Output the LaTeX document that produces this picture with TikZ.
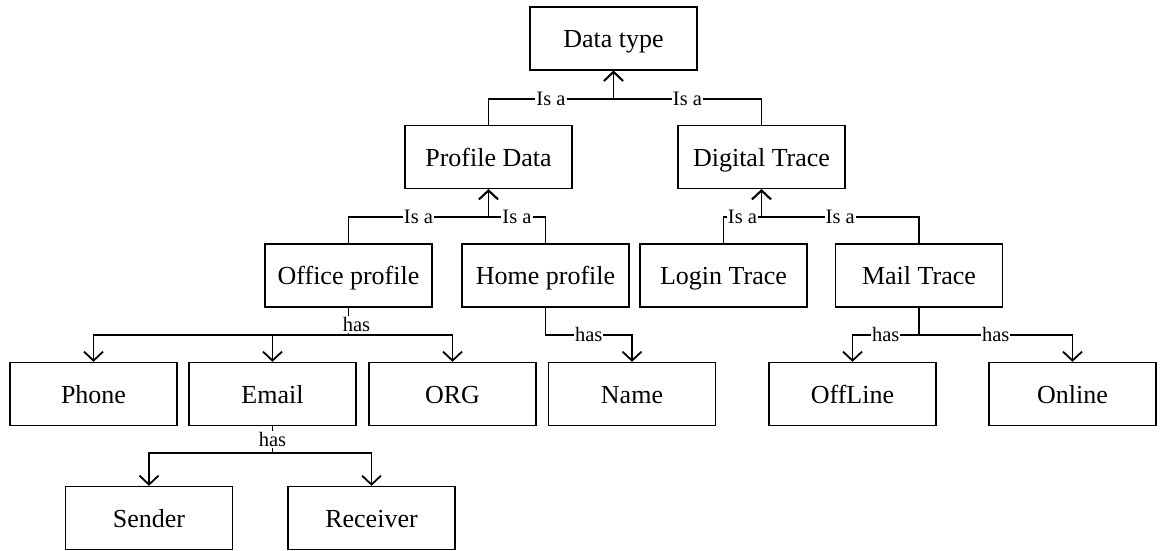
\documentclass[tikz,border=0pt]{standalone}
\usepackage{fontspec}
\setmainfont{Liberation Serif}
\usepackage{tikz}
\usetikzlibrary{arrows.meta,positioning}

\begin{document}
\begin{tikzpicture}[x=1pt,y=-1pt,>={Straight Barb[length=9pt,width=19pt]},
	                    line width=1.8pt,node distance=118.5pt]
	  \tikzstyle{box}=[draw=black,line width=1.3pt,minimum width=167pt,minimum height=63pt,
	                   text height=18pt,text depth=0pt,font=\fontsize{26}{30}\selectfont]
	  \tikzstyle{lbl}=[fill=white,inner sep=1pt,font=\fontsize{20.5}{24}\selectfont]
	  \useasboundingbox (0,0) rectangle (1160,550);

	  \node[box] (DataType) at (613.5,38.5) {Data type};
	  \node[box] (ProfileData) [below of=DataType, xshift=-125pt] {Profile Data};
	  \node[box] (DigitalTrace) [right of=ProfileData, node distance=273pt] {Digital Trace};
	  \node[box] (Office) [below of=ProfileData, xshift=-140pt] {Office profile};
	  \node[box] (Home) [right of=Office, node distance=197pt] {Home profile};
	  \node[box] (Login) [right of=Home, node distance=178pt] {Login Trace};
	  \node[box] (Mail) [right of=Login, node distance=195.5pt] {Mail Trace};
	  \node[box] (Email) [below of=Office, xshift=-76pt] {Email};
	  \node[box] (Phone) [left of=Email, node distance=179pt] {Phone};
	  \node[box] (ORG) [right of=Email, node distance=180pt] {ORG};
	  \node[box] (Name) [right of=ORG, node distance=179.5pt] {Name};
	  \node[box] (OffLine) [right of=Name, node distance=220.5pt] {OffLine};
	  \node[box] (Online) [right of=OffLine, node distance=220pt] {Online};
	  \node[box] (Sender) [below of=Email, node distance=124pt, xshift=-123.5pt] {Sender};
	  \node[box] (Receiver) [right of=Sender, node distance=222.5pt] {Receiver};

	  % junctions under each parent
	  \coordinate (DataTypeBar) at ([yshift=-28pt]DataType.south);
	  \coordinate (ProfileDataBar) at ([yshift=-28pt]ProfileData.south);
	  \coordinate (DigitalTraceBar) at ([yshift=-28pt]DigitalTrace.south);
	  \coordinate (OfficeBar) at ([yshift=-27pt]Office.south);
	  \coordinate (HomeBar) at ([yshift=-27pt]Home.south);
	  \coordinate (MailBar) at ([yshift=-27pt]Mail.south);
	  \coordinate (EmailBar) at ([yshift=-27pt]Email.south);

	  % is a
	  \draw[->] (ProfileData.north) |- node[lbl,pos=.75] {Is a} (DataTypeBar) -- (DataType.south);
	  \draw[->] (DigitalTrace.north) |- node[lbl,pos=.75] {Is a} (DataTypeBar) -- (DataType.south);
	  \draw[->] (Office.north) |- node[lbl,pos=.75] {Is a} (ProfileDataBar) -- (ProfileData.south);
	  \draw[->] (Home.north) |- node[lbl,pos=.75] {Is a} (ProfileDataBar) -- (ProfileData.south);
	  \draw[->] (Login.north) |- node[lbl,pos=.75] {Is a} (DigitalTraceBar) -- (DigitalTrace.south);
	  \draw[->] (Mail.north) |- node[lbl,pos=.75] {Is a} (DigitalTraceBar) -- (DigitalTrace.south);

	  % has
	  \draw[->] (OfficeBar) -| (Phone.north);
	  \draw[->] (OfficeBar) -| (Email.north);
	  \draw[->] (OfficeBar) -| (ORG.north);
	  \draw (Office.south) -- node[lbl,pos=.62,xshift=8pt] {has} (OfficeBar);
	  \draw[->] (Home.south) |- node[lbl,pos=.75] {has} (Name.north |- HomeBar) -- (Name.north);
	  \draw[->] (Mail.south) |- node[lbl,pos=.75] {has} (OffLine.north |- MailBar) -- (OffLine.north);
	  \draw[->] (Mail.south) |- node[lbl,pos=.75] {has} (Online.north |- MailBar) -- (Online.north);
	  \draw[->] (EmailBar) -| (Sender.north);
	  \draw[->] (EmailBar) -| (Receiver.north);
	  \draw (Email.south) -- node[lbl,pos=.5] {has} (EmailBar);
\end{tikzpicture}
\end{document}
